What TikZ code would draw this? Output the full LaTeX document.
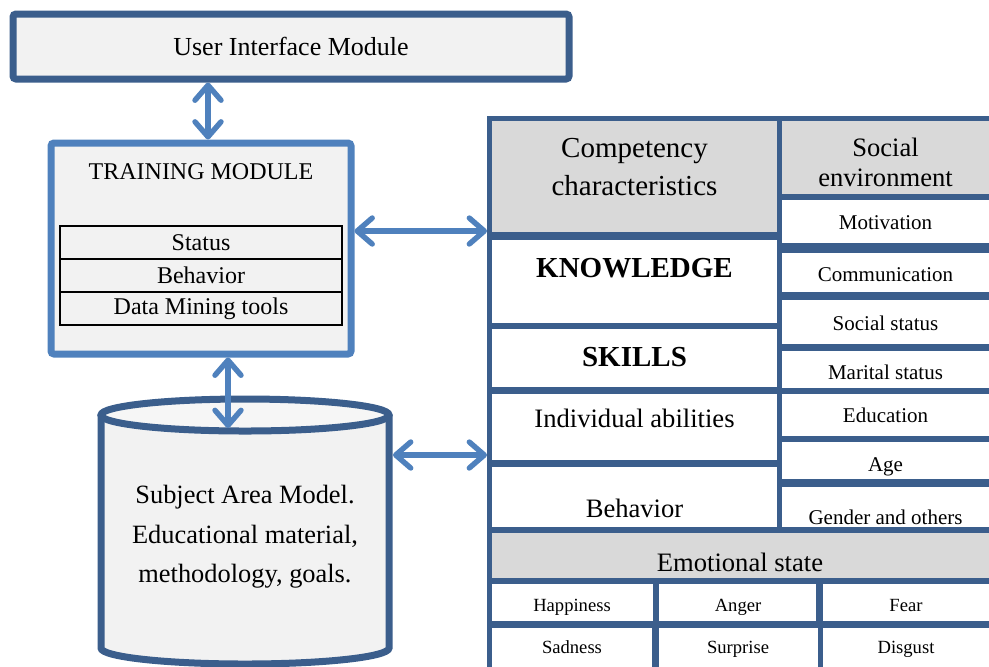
\documentclass[tikz,border=0pt]{standalone}
\usepackage{fontspec}
\setmainfont{Liberation Serif}
\usepackage{tikz}
\usetikzlibrary{arrows.meta}
\usetikzlibrary{positioning}
\definecolor{frameblue}{HTML}{3B5E8C}
\definecolor{linkblue}{HTML}{4F81BD}
\definecolor{headgray}{HTML}{D9D9D9}
\definecolor{boxgray}{HTML}{F2F2F2}
\tikzset{
  >={Straight Barb[length=7.5pt,width=13pt,round]},
  link/.style={draw=linkblue, line width=2.7pt, <->},
  module/.style={fill=boxgray, line width=3.5pt, rounded corners=1.5pt},
  slot/.style={draw=black, fill=boxgray, line width=1.2pt, outer sep=0pt, inner sep=0pt,
    minimum width=141pt, minimum height=16.5pt, font=\fontsize{12}{14}\selectfont},
  big/.style={font=\fontsize{13.3}{16}\selectfont, text height=0.7em, text depth=0.22em, yshift=-2.5pt},
  item/.style={font=\fontsize{10.5}{12}\selectfont, text height=0.7em, text depth=0.22em, yshift=-1.5pt},
  emotion/.style={font=\fontsize{9.3}{11}\selectfont, text height=0.7em, text depth=0.22em, yshift=-0.8pt}
}

\begin{document}
\begin{tikzpicture}[x=0.5pt, y=-0.5pt]
		\useasboundingbox (0,0) rectangle (989,666);
		\clip (0,0) rectangle (989,666);
		% modules on the left
		\node[module, draw=frameblue, minimum width=278pt, minimum height=32.5pt, font=\fontsize{13}{15}\selectfont] (ui) at (291,46.5) {User Interface Module};
		\node[module, draw=linkblue, minimum width=150pt, minimum height=105.5pt] (train) at (201,248.5) {};
		\node[font=\fontsize{12}{14}\selectfont] (trtitle) at (201,172) {TRAINING MODULE};
		\node[slot] (status) at (201,242.5) {Status};
		\node[slot, below=0pt of status] (trbehav) {Behavior};
		\node[slot, below=0pt of trbehav] (mining) {Data Mining tools};
		%
		\fill[boxgray] (101,415) -- (101,648) arc (180:0:144 and 16) -- (389,415) -- cycle;
		\draw[frameblue, line width=3.5pt] (101,415) -- (101,648) arc (180:0:144 and 16) -- (389,415);
		\filldraw[fill=gray!7, draw=frameblue, line width=3.5pt] (245,415) ellipse [x radius=144, y radius=16];
		\node[align=center, font=\fontsize{13.2}{19.75}\selectfont] (db) at (245,537) {Subject Area Model.\\Educational material,\\methodology, goals.};
		\coordinate (dbtop) at (228,428);
		\coordinate (dbside) at (393,455);
		% the table of characteristics
		\node[fill=frameblue, minimum width=254pt, minimum height=277pt, inner sep=0pt, outer sep=0pt, anchor=north west] (grid) at (487,116) {};
		\fill[headgray] (492,121) rectangle (777,232);
		\fill[white] (492,240) rectangle (777,323);
		\fill[white] (492,329) rectangle (777,387);
		\fill[white] (492,394) rectangle (777,460);
		\fill[white] (492,467) rectangle (777,527);
		\fill[headgray] (782,121) rectangle (995,194);
		\fill[white] (782,200) rectangle (995,243);
		\fill[white] (782,253) rectangle (995,292);
		\fill[white] (782,300) rectangle (995,344);
		\fill[white] (782,351) rectangle (995,388);
		\fill[white] (782,394) rectangle (995,436);
		\fill[white] (782,442) rectangle (995,479);
		\fill[white] (782,487) rectangle (995,527);
		\fill[headgray] (492,533) rectangle (995,578);
		\fill[white] (492,584) rectangle (653,621);
		\fill[white] (659,584) rectangle (816,621);
		\fill[white] (823,584) rectangle (995,621);
		\fill[white] (492,628) rectangle (652,670);
		\fill[white] (659,628) rectangle (818,670);
		\fill[white] (823,628) rectangle (995,670);
		%
		\node[align=center, font=\fontsize{14.5}{19}\selectfont] (comp) at (634.5,167) {Competency\\characteristics};
		\node[font=\bfseries\fontsize{14.5}{17}\selectfont] (know) at (634.5,268) {KNOWLEDGE};
		\node[font=\bfseries\fontsize{14.5}{17}\selectfont] (skill) at (634.5,357) {SKILLS};
		\node[big] (indiv) at (634.5,418) {Individual abilities};
		\node[big] (behav) at (634.5,508) {Behavior};
		\node[align=center, font=\fontsize{13.3}{15}\selectfont] (social) at (885.5,162) {Social\\environment};
		\node[item] (motiv) at (885.5,222) {Motivation};
		\node[item] (comm) at (885.5,274) {Communication};
		\node[item] (sstat) at (885.5,323) {Social status};
		\node[item] (marit) at (885.5,372) {Marital status};
		\node[item] (educ) at (885.5,415) {Education};
		\node[item] (age) at (885.5,464) {Age};
		\node[item] (gender) at (885.5,517) {Gender and others};
		\node[big] (emo) at (740,562) {Emotional state};
		\node[emotion] (happy) at (572,605) {Happiness};
		\node[emotion] (anger) at (738,605) {Anger};
		\node[emotion] (fear) at (906,605) {Fear};
		\node[emotion] (sad) at (572,647) {Sadness};
		\node[emotion] (surp) at (738,647) {Surprise};
		\node[emotion] (disg) at (906,647) {Disgust};
		% links
		\draw[link] ([xshift=3.5pt]train.north |- ui.south) -- ([xshift=3.5pt]train.north);
		\draw[link] ([xshift=13.5pt]train.south) -- (dbtop);
		\draw[link] ([yshift=8.75pt]train.east) -- ([yshift=8.75pt]train.east -| grid.west);
		\draw[link] (dbside) -- (dbside -| grid.west);
	\end{tikzpicture}
\end{document}
